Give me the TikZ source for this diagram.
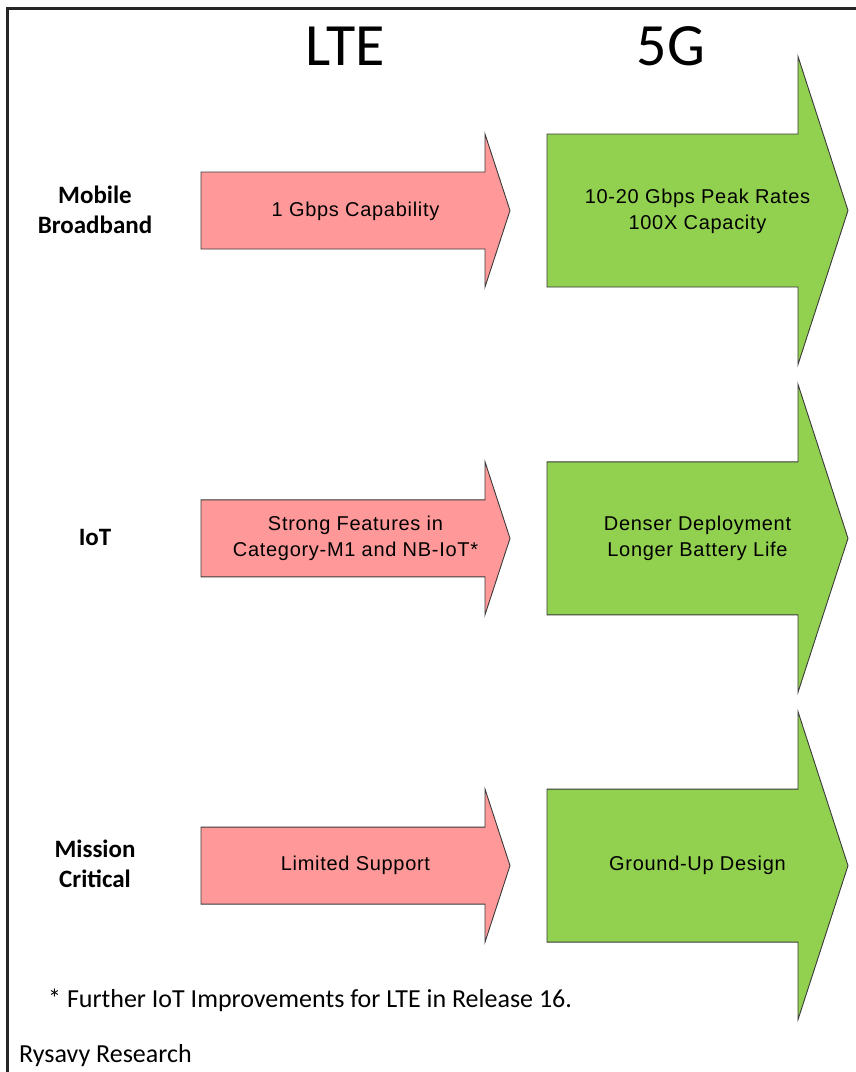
\documentclass[tikz,border=0pt]{standalone}
\usepackage{fontspec}
\setmainfont{Carlito}
\newfontfamily\arialf{Liberation Sans}[LetterSpace=3.5]
\definecolor{redfill}{HTML}{FF9999}
\definecolor{greenfill}{HTML}{92D050}
\definecolor{edgec}{HTML}{3A3A3A}
\tikzset{
  redarrow/.style={fill=redfill, draw=edgec, line width=0.9pt, line join=miter},
  greenarrow/.style={fill=greenfill, draw=edgec, line width=0.9pt, line join=miter},
  title/.style={anchor=base, inner sep=0pt, font=\fontsize{60}{60}\selectfont},
  rowlab/.style={anchor=center, inner sep=0pt, align=center, font=\bfseries\fontsize{25}{30}\selectfont},
  arrowtext/.style={anchor=center, inner sep=0pt, align=center, text=black, font=\arialf\fontsize{20}{26}\selectfont},
  plain/.style={anchor=base west, inner sep=0pt, font=\fontsize{26}{30}\selectfont}
}
\begin{document}
\begin{tikzpicture}[x=1pt,y=-1pt]
\useasboundingbox (0,0) rectangle (855,1072);
\draw[line width=2.2pt, black!85] (7.5,1080) -- (7.5,8.5) -- (870,8.5);
\foreach \c in {210.5,538.3,865.6} {
  \draw[redarrow] (201,\c-38.5) -- (485,\c-38.5) -- (485,\c-76.5) -- (510,\c) -- (485,\c+76.5) -- (485,\c+38.5) -- (201,\c+38.5) -- cycle;
  \draw[greenarrow] (547,\c-76.5) -- (798,\c-76.5) -- (798,\c-154) -- (848,\c) -- (798,\c+154) -- (798,\c+76.5) -- (547,\c+76.5) -- cycle;
}
\node[title] (lte) at (345,65) {LTE};
\node[title] (fiveg) at (671,65) {5G};
\node[rowlab] (mbb) at (95,210) {Mobile\\Broadband};
\node[rowlab] (iot) at (95,537) {IoT};
\node[rowlab] (mc) at (95,864) {Mission\\Critical};
\node[arrowtext] (lte1) at (355.5,211) {1 Gbps Capability};
\node[arrowtext] (lte2) at (355.5,538.3) {Strong Features in\\Category-M1 and NB-IoT*};
\node[arrowtext] (lte3) at (355.5,865.6) {Limited Support};
\node[arrowtext] (g1) at (697.5,211) {10-20 Gbps Peak Rates\\100X Capacity};
\node[arrowtext] (g2) at (697.5,538.3) {Denser Deployment\\Longer Battery Life};
\node[arrowtext] (g3) at (697.5,865.6) {Ground-Up Design};
\node[plain] (note) at (48,1007) {* Further IoT Improvements for LTE in Release 16.};
\node[plain] (src) at (19,1062) {Rysavy Research};
\end{tikzpicture}
\end{document}
